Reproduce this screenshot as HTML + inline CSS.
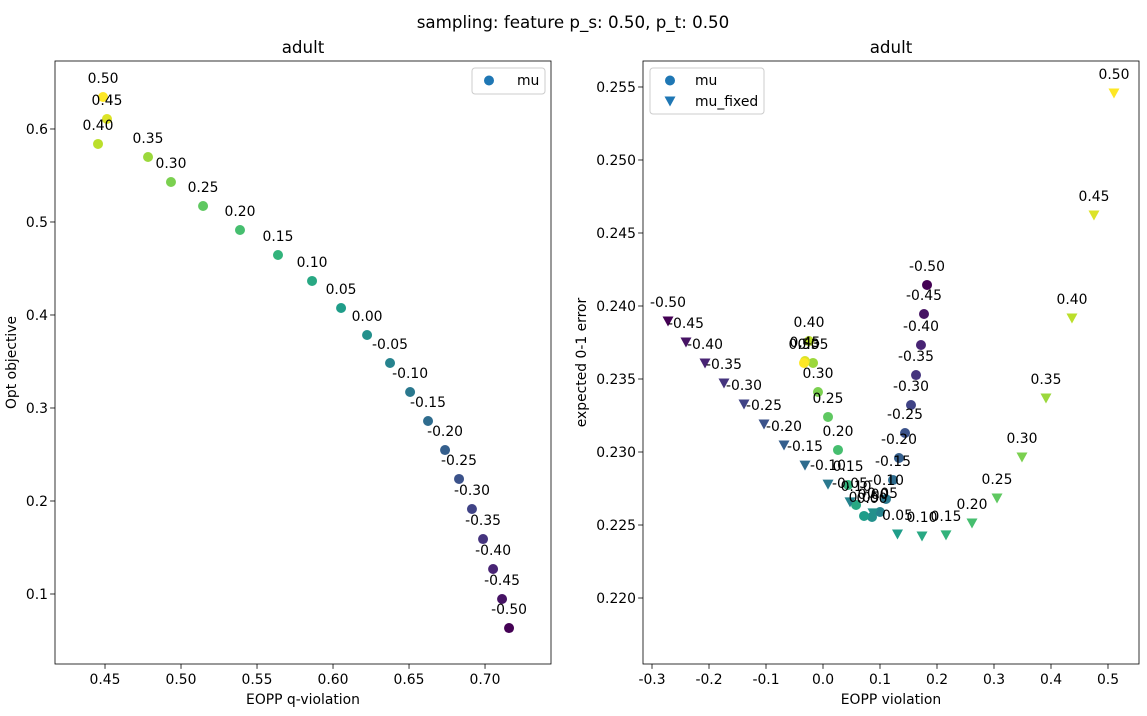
<!DOCTYPE html>
<html><head><meta charset="utf-8"><style>
body{margin:0;background:#fff;font-family:"Liberation Sans","DejaVu Sans",sans-serif}
svg text{font-family:"DejaVu Sans","Liberation Sans",sans-serif;fill:#000}
</style></head><body>
<svg id="fig" width="1147" height="711" xmlns="http://www.w3.org/2000/svg">
<rect width="1147" height="711" fill="#fff"/>
<text x="573" y="28" font-size="16.7" text-anchor="middle">sampling: feature p_s: 0.50, p_t: 0.50</text>
</svg>
<script>
const labels=["-0.50","-0.45","-0.40","-0.35","-0.30","-0.25","-0.20","-0.15","-0.10","-0.05","0.00","0.05","0.10","0.15","0.20","0.25","0.30","0.35","0.40","0.45","0.50"];
const muVals=[-0.5,-0.45,-0.4,-0.35,-0.3,-0.25,-0.2,-0.15,-0.1,-0.05,0,0.05,0.1,0.15,0.2,0.25,0.3,0.35,0.4,0.45,0.5];
const leftX=[0.7158,0.7112,0.7053,0.6987,0.6914,0.6829,0.6737,0.6625,0.6507,0.6375,0.6224,0.6053,0.5862,0.5638,0.5388,0.5145,0.4934,0.4783,0.4454,0.4513,0.4487];
const leftY=[0.0634,0.0946,0.1269,0.1591,0.1914,0.2237,0.2548,0.2860,0.3172,0.3484,0.3785,0.4075,0.4366,0.4645,0.4914,0.5172,0.5430,0.5699,0.5839,0.6108,0.6344];
const muX=[0.1825,0.1772,0.1719,0.1632,0.1544,0.1439,0.1333,0.1228,0.1105,0.1,0.086,0.072,0.058,0.044,0.0263,0.0088,-0.0088,-0.0175,-0.0246,-0.0316,-0.0333];
const muY=[0.24144,0.23945,0.23733,0.23527,0.23322,0.2313,0.22959,0.22808,0.22678,0.22589,0.22555,0.22562,0.22637,0.22774,0.23014,0.2324,0.23411,0.2361,0.2376,0.23623,0.2361];
const fxX=[-0.2719,-0.2404,-0.207,-0.1737,-0.1386,-0.1035,-0.0684,-0.0316,0.0088,0.0474,0.0877,0.1307,0.1737,0.2158,0.2614,0.3053,0.3491,0.3912,0.4368,0.4754,0.5105];
const fxY=[0.23897,0.23753,0.2361,0.23473,0.23329,0.23192,0.23048,0.2291,0.2278,0.22658,0.22583,0.22438,0.22425,0.22432,0.22514,0.22685,0.22966,0.23370,0.23918,0.24623,0.25459];
const leftXTicks=[0.45,0.50,0.55,0.60,0.65,0.70];
const leftYTicks=[0.1,0.2,0.3,0.4,0.5,0.6];
const rightXTicks=[-0.3,-0.2,-0.1,0.0,0.1,0.2,0.3,0.4,0.5];
const rightYTicks=[0.220,0.225,0.230,0.235,0.240,0.245,0.250,0.255];

const NS="http://www.w3.org/2000/svg";
const svg=document.getElementById('fig');
function el(t,a,p){const e=document.createElementNS(NS,t);for(const k in a)e.setAttribute(k,a[k]);(p||svg).appendChild(e);return e;}
const vir=[[68,1,84],[72,40,120],[62,74,137],[49,104,142],[38,130,142],[31,158,137],[53,183,121],[109,205,89],[180,222,44],[253,231,37]];
function viridis(t){t=Math.max(0,Math.min(1,t))*9;const i=Math.min(8,Math.floor(t)),f=t-i;const a=vir[i],b=vir[i+1];return `rgb(${a.map((v,k)=>Math.round(v+(b[k]-v)*f)).join(',')})`;}
function axes(name,x0,x1,y0,y1,xmin,xmax,ymin,ymax,xt,yt,xfmt,yfmt,xlabel,ylabel,ylx,title){
  const g=el('g',{});
  
  
  const sx=v=>x0+(v-xmin)/(xmax-xmin)*(x1-x0), sy=v=>y1-(v-ymin)/(ymax-ymin)*(y1-y0);
  xt.forEach(v=>{const x=sx(v);el('line',{x1:x,x2:x,y1:y1,y2:y1+4.9,stroke:'#000','stroke-width':0.8},g);
    const t=el('text',{x:x,y:y1+20,'font-size':13.9,'text-anchor':'middle'},g);t.textContent=xfmt(v);
    });
  yt.forEach(v=>{const y=sy(v);el('line',{x1:x0-4.9,x2:x0,y1:y,y2:y,stroke:'#000','stroke-width':0.8},g);
    const t=el('text',{x:x0-7,y:y+5,'font-size':13.9,'text-anchor':'end'},g);t.textContent=yfmt(v);
    });
  const xl=el('text',{x:(x0+x1)/2,y:704,'font-size':13.9,'text-anchor':'middle'},g);xl.textContent=xlabel;
  
  const yl=el('text',{x:ylx,y:(y0+y1)/2,'font-size':13.9,'text-anchor':'middle',transform:`rotate(-90 ${ylx} ${(y0+y1)/2})`},g);yl.textContent=ylabel;
  
  const ti=el('text',{x:(x0+x1)/2,y:53,'font-size':16.7,'text-anchor':'middle'},g);ti.textContent=title;
  
  return {g,sx,sy,frame:()=>el('rect',{x:x0,y:y0,width:x1-x0,height:y1-y0,fill:'none',stroke:'#000','stroke-width':0.8},g)};
}
function circ(g,x,y,c){const e=el('circle',{cx:x,cy:y,r:5,fill:c},g);return e;}
function tri(g,x,y,c){const e=el('path',{d:`M${x-5.5},${y-4.5}L${x+5.5},${y-4.5}L${x},${y+5.5}Z`,fill:c},g);return e;}
function ann(g,x,y,s){const t=el('text',{x:x,y:y-14,'font-size':13.9,'text-anchor':'middle'},g);t.textContent=s;
  }
const f2=v=>v.toFixed(2), f1=v=>v.toFixed(1), f3=v=>v.toFixed(3);
// left
const L=axes('left-axes',55,551,61,664,0.4171,0.7434,0.02473,0.6731,leftXTicks,leftYTicks,f2,f1,'EOPP q-violation','Opt objective',16,'adult');
muVals.forEach((v,i)=>circ(L.g,L.sx(leftX[i]),L.sy(leftY[i]),viridis((v+0.5))));
muVals.forEach((v,i)=>ann(L.g,L.sx(leftX[i]),L.sy(leftY[i]),labels[i]));
L.frame();
// legend left
const lg=el('g',{});


el('rect',{x:472,y:68,width:73,height:26,rx:3,fill:'#fff',stroke:'#ccc'},lg);
el('circle',{cx:489,cy:80.5,r:5,fill:'#1f77b4'},lg);
const lt=el('text',{x:517,y:85,'font-size':13.9},lg);lt.textContent='mu';
// right
const R=axes('right-axes',643,1139,61,664,-0.3158,0.5544,0.21548,0.25678,rightXTicks,rightYTicks,f1,f3,'EOPP violation','expected 0-1 error',586,'adult');
muVals.forEach((v,i)=>circ(R.g,R.sx(muX[i]),R.sy(muY[i]),viridis(v+0.5)));
muVals.forEach((v,i)=>tri(R.g,R.sx(fxX[i]),R.sy(fxY[i]),viridis(v+0.5)));
muVals.forEach((v,i)=>ann(R.g,R.sx(muX[i]),R.sy(muY[i]),labels[i]));
muVals.forEach((v,i)=>ann(R.g,R.sx(fxX[i]),R.sy(fxY[i]),labels[i]));
R.frame();
const rg=el('g',{});


el('rect',{x:650,y:68,width:114,height:46,rx:3,fill:'#fff',stroke:'#ccc'},rg);
el('circle',{cx:670,cy:80.5,r:5,fill:'#1f77b4'},rg);
const r1=el('text',{x:695,y:85,'font-size':13.9},rg);r1.textContent='mu';
el('path',{d:'M664.5,96.5L675.5,96.5L670,106.5Z',fill:'#1f77b4'},rg);
const r2=el('text',{x:695,y:106,'font-size':13.9},rg);r2.textContent='mu_fixed';
</script>
</body></html>
